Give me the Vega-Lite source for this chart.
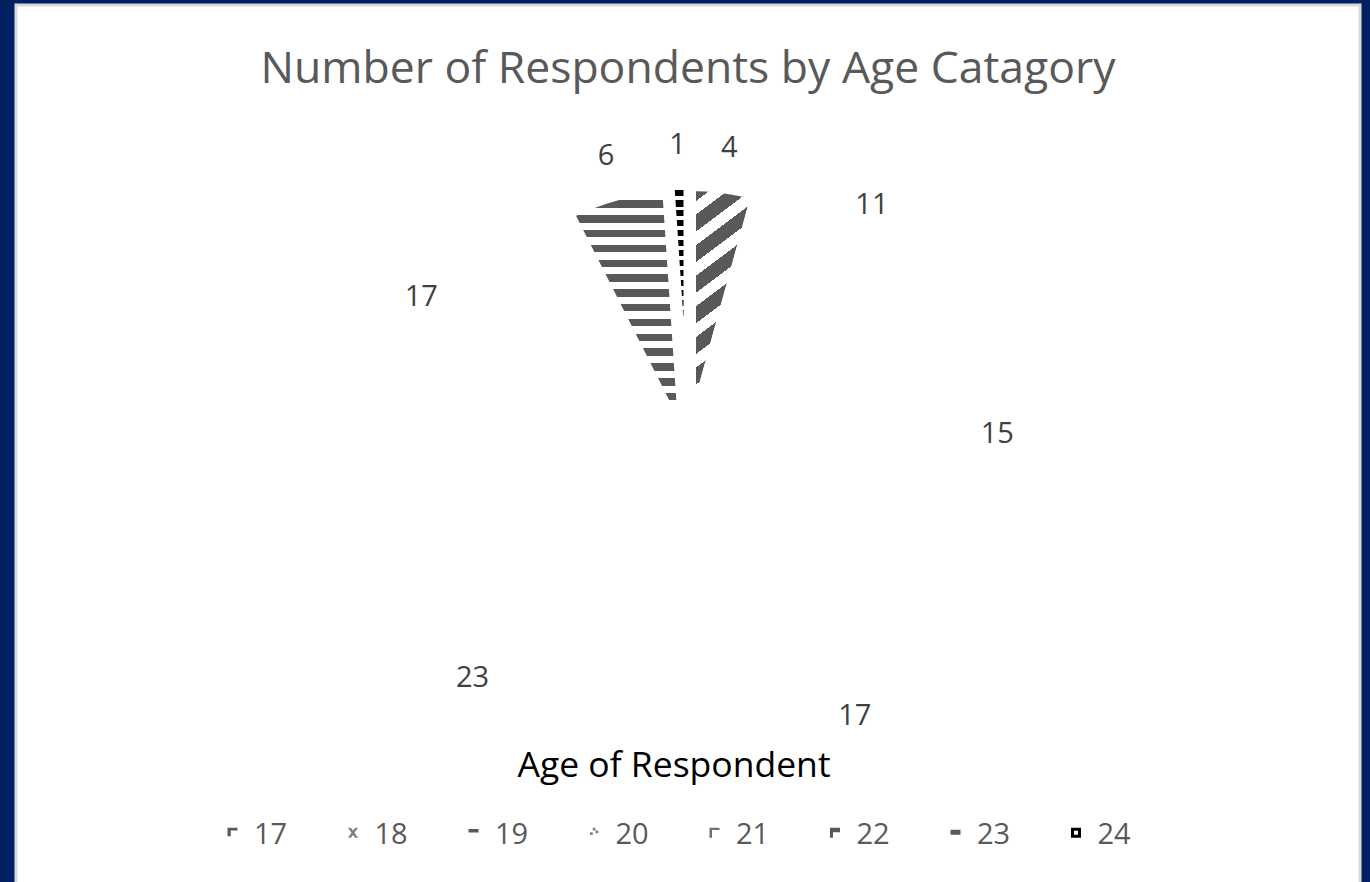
{
  "$schema": "https://vega.github.io/schema/vega-lite/v6.json",
  "width": 1344,
  "height": 900,
  "autosize": {"type": "none"},
  "padding": {"left": 16, "top": 5, "right": 10, "bottom": -23},
  "background": "#00205f",
  "view": {"fill": "#ffffff", "stroke": "#d9d9d9", "strokeWidth": 3},
  "title": {
    "text": "Number of Respondents by Age Catagory",
    "font": "Open Sans",
    "fontSize": 44.5,
    "fontWeight": "normal",
    "color": "#595959",
    "anchor": "middle",
    "baseline": "alphabetic",
    "offset": -122,
    "limit": 0
  },
  "data": {
    "values": [
      {"age": 17, "n": 4},
      {"age": 18, "n": 11},
      {"age": 19, "n": 15},
      {"age": 20, "n": 17},
      {"age": 21, "n": 23},
      {"age": 22, "n": 17},
      {"age": 23, "n": 6},
      {"age": 24, "n": 1}
    ]
  },
  "layer": [
    {
      "mark": {"type": "arc", "radius": 272, "stroke": "white", "strokeJoin": "round"},
      "encoding": {
        "theta": {"field": "n", "type": "quantitative", "stack": true},
        "order": {"field": "age", "type": "quantitative", "sort": "ascending"},
        "fill": {
          "condition": [
            {
              "test": "datum.age === 17",
              "value": {
                "gradient": "linear", "x1": 0, "y1": 0, "x2": 0.19814, "y2": 1,
                "stops": [
                  {"offset": 0, "color": "#ffffff"},
                  {"offset": 0.0245, "color": "#ffffff"}, {"offset": 0.0245, "color": "#595959"},
                  {"offset": 0.0846, "color": "#595959"}, {"offset": 0.0846, "color": "#ffffff"},
                  {"offset": 0.1328, "color": "#ffffff"}, {"offset": 0.1328, "color": "#595959"},
                  {"offset": 0.1929, "color": "#595959"}, {"offset": 0.1929, "color": "#ffffff"},
                  {"offset": 0.2410, "color": "#ffffff"}, {"offset": 0.2410, "color": "#595959"},
                  {"offset": 0.3011, "color": "#595959"}, {"offset": 0.3011, "color": "#ffffff"},
                  {"offset": 0.3493, "color": "#ffffff"}, {"offset": 0.3493, "color": "#595959"},
                  {"offset": 0.4094, "color": "#595959"}, {"offset": 0.4094, "color": "#ffffff"},
                  {"offset": 0.4575, "color": "#ffffff"}, {"offset": 0.4575, "color": "#595959"},
                  {"offset": 0.5176, "color": "#595959"}, {"offset": 0.5176, "color": "#ffffff"},
                  {"offset": 0.5658, "color": "#ffffff"}, {"offset": 0.5658, "color": "#595959"},
                  {"offset": 0.6259, "color": "#595959"}, {"offset": 0.6259, "color": "#ffffff"},
                  {"offset": 0.6740, "color": "#ffffff"}, {"offset": 0.6740, "color": "#595959"},
                  {"offset": 0.7341, "color": "#595959"}, {"offset": 0.7341, "color": "#ffffff"},
                  {"offset": 0.7823, "color": "#ffffff"}, {"offset": 0.7823, "color": "#595959"},
                  {"offset": 0.8424, "color": "#595959"}, {"offset": 0.8424, "color": "#ffffff"},
                  {"offset": 1, "color": "#ffffff"}
                ]
              }
            },
            {
              "test": "datum.age === 23",
              "value": {
                "gradient": "linear", "x1": 0, "y1": 0, "x2": 0, "y2": 1,
                "stops": [
                  {"offset": 0, "color": "#ffffff"},
                  {"offset": 0.0611, "color": "#ffffff"}, {"offset": 0.0611, "color": "#595959"},
                  {"offset": 0.0888, "color": "#595959"}, {"offset": 0.0888, "color": "#ffffff"},
                  {"offset": 0.1158, "color": "#ffffff"}, {"offset": 0.1158, "color": "#595959"},
                  {"offset": 0.1434, "color": "#595959"}, {"offset": 0.1434, "color": "#ffffff"},
                  {"offset": 0.1704, "color": "#ffffff"}, {"offset": 0.1704, "color": "#595959"},
                  {"offset": 0.1980, "color": "#595959"}, {"offset": 0.1980, "color": "#ffffff"},
                  {"offset": 0.2250, "color": "#ffffff"}, {"offset": 0.2250, "color": "#595959"},
                  {"offset": 0.2527, "color": "#595959"}, {"offset": 0.2527, "color": "#ffffff"},
                  {"offset": 0.2797, "color": "#ffffff"}, {"offset": 0.2797, "color": "#595959"},
                  {"offset": 0.3073, "color": "#595959"}, {"offset": 0.3073, "color": "#ffffff"},
                  {"offset": 0.3343, "color": "#ffffff"}, {"offset": 0.3343, "color": "#595959"},
                  {"offset": 0.3620, "color": "#595959"}, {"offset": 0.3620, "color": "#ffffff"},
                  {"offset": 0.3890, "color": "#ffffff"}, {"offset": 0.3890, "color": "#595959"},
                  {"offset": 0.4166, "color": "#595959"}, {"offset": 0.4166, "color": "#ffffff"},
                  {"offset": 0.4436, "color": "#ffffff"}, {"offset": 0.4436, "color": "#595959"},
                  {"offset": 0.4712, "color": "#595959"}, {"offset": 0.4712, "color": "#ffffff"},
                  {"offset": 0.4982, "color": "#ffffff"}, {"offset": 0.4982, "color": "#595959"},
                  {"offset": 0.5259, "color": "#595959"}, {"offset": 0.5259, "color": "#ffffff"},
                  {"offset": 0.5529, "color": "#ffffff"}, {"offset": 0.5529, "color": "#595959"},
                  {"offset": 0.5805, "color": "#595959"}, {"offset": 0.5805, "color": "#ffffff"},
                  {"offset": 0.6075, "color": "#ffffff"}, {"offset": 0.6075, "color": "#595959"},
                  {"offset": 0.6352, "color": "#595959"}, {"offset": 0.6352, "color": "#ffffff"},
                  {"offset": 0.6622, "color": "#ffffff"}, {"offset": 0.6622, "color": "#595959"},
                  {"offset": 0.6898, "color": "#595959"}, {"offset": 0.6898, "color": "#ffffff"},
                  {"offset": 0.7168, "color": "#ffffff"}, {"offset": 0.7168, "color": "#595959"},
                  {"offset": 0.7444, "color": "#595959"}, {"offset": 0.7444, "color": "#ffffff"},
                  {"offset": 0.7714, "color": "#ffffff"}, {"offset": 0.7714, "color": "#595959"},
                  {"offset": 0.7991, "color": "#595959"}, {"offset": 0.7991, "color": "#ffffff"},
                  {"offset": 1, "color": "#ffffff"}
                ]
              }
            },
            {
              "test": "datum.age === 24",
              "value": {
                "gradient": "linear", "x1": 0, "y1": 0, "x2": 0, "y2": 1,
                "stops": [
                  {"offset": 0, "color": "#ffffff"},
                  {"offset": 0.0257, "color": "#ffffff"}, {"offset": 0.0257, "color": "#000000"},
                  {"offset": 0.0496, "color": "#000000"}, {"offset": 0.0496, "color": "#ffffff"},
                  {"offset": 0.0625, "color": "#ffffff"}, {"offset": 0.0625, "color": "#000000"},
                  {"offset": 0.0864, "color": "#000000"}, {"offset": 0.0864, "color": "#ffffff"},
                  {"offset": 0.0992, "color": "#ffffff"}, {"offset": 0.0992, "color": "#000000"},
                  {"offset": 0.1231, "color": "#000000"}, {"offset": 0.1231, "color": "#ffffff"},
                  {"offset": 0.1360, "color": "#ffffff"}, {"offset": 0.1360, "color": "#000000"},
                  {"offset": 0.1599, "color": "#000000"}, {"offset": 0.1599, "color": "#ffffff"},
                  {"offset": 0.1727, "color": "#ffffff"}, {"offset": 0.1727, "color": "#000000"},
                  {"offset": 0.1966, "color": "#000000"}, {"offset": 0.1966, "color": "#ffffff"},
                  {"offset": 0.2095, "color": "#ffffff"}, {"offset": 0.2095, "color": "#000000"},
                  {"offset": 0.2334, "color": "#000000"}, {"offset": 0.2334, "color": "#ffffff"},
                  {"offset": 0.2463, "color": "#ffffff"}, {"offset": 0.2463, "color": "#000000"},
                  {"offset": 0.2702, "color": "#000000"}, {"offset": 0.2702, "color": "#ffffff"},
                  {"offset": 0.2830, "color": "#ffffff"}, {"offset": 0.2830, "color": "#000000"},
                  {"offset": 0.3069, "color": "#000000"}, {"offset": 0.3069, "color": "#ffffff"},
                  {"offset": 0.3198, "color": "#ffffff"}, {"offset": 0.3198, "color": "#000000"},
                  {"offset": 0.3437, "color": "#000000"}, {"offset": 0.3437, "color": "#ffffff"},
                  {"offset": 0.3565, "color": "#ffffff"}, {"offset": 0.3565, "color": "#000000"},
                  {"offset": 0.3804, "color": "#000000"}, {"offset": 0.3804, "color": "#ffffff"},
                  {"offset": 0.3933, "color": "#ffffff"}, {"offset": 0.3933, "color": "#000000"},
                  {"offset": 0.4172, "color": "#000000"}, {"offset": 0.4172, "color": "#ffffff"},
                  {"offset": 0.4301, "color": "#ffffff"}, {"offset": 0.4301, "color": "#000000"},
                  {"offset": 0.4540, "color": "#000000"}, {"offset": 0.4540, "color": "#ffffff"},
                  {"offset": 0.4668, "color": "#ffffff"}, {"offset": 0.4668, "color": "#000000"},
                  {"offset": 0.4907, "color": "#000000"}, {"offset": 0.4907, "color": "#ffffff"},
                  {"offset": 0.5036, "color": "#ffffff"}, {"offset": 0.5036, "color": "#000000"},
                  {"offset": 0.5275, "color": "#000000"}, {"offset": 0.5275, "color": "#ffffff"},
                  {"offset": 0.5403, "color": "#ffffff"}, {"offset": 0.5403, "color": "#000000"},
                  {"offset": 0.5642, "color": "#000000"}, {"offset": 0.5642, "color": "#ffffff"},
                  {"offset": 0.5771, "color": "#ffffff"}, {"offset": 0.5771, "color": "#000000"},
                  {"offset": 0.6010, "color": "#000000"}, {"offset": 0.6010, "color": "#ffffff"},
                  {"offset": 1, "color": "#ffffff"}
                ]
              }
            }
          ],
          "value": "#ffffff"
        },
        "strokeWidth": {
          "condition": {"test": "datum.age === 24", "value": 9},
          "value": 16
        }
      }
    },
    {
      "mark": {"type": "text", "radius": 310, "font": "Open Sans", "fontSize": 29, "color": "#404040"},
      "encoding": {
        "theta": {"field": "n", "type": "quantitative", "stack": true},
        "order": {"field": "age", "type": "quantitative", "sort": "ascending"},
        "text": {"field": "n", "type": "quantitative"}
      }
    },
    {
      "mark": {"type": "point", "filled": true, "opacity": 0},
      "encoding": {
        "color": {
          "field": "age",
          "type": "ordinal",
          "scale": {
            "domain": [17, 18, 19, 20, 21, 22, 23, 24],
            "range": ["#595959", "#7f7f7f", "#595959", "#7f7f7f", "#6f6f6f", "#595959", "#595959", "#000000"]
          },
          "legend": {
            "title": "Age of Respondent",
            "orient": "none",
            "legendX": 202,
            "legendY": 744,
            "direction": "horizontal"
          }
        },
        "shape": {
          "field": "age",
          "type": "ordinal",
          "scale": {
            "domain": [17, 18, 19, 20, 21, 22, 23, 24],
            "range": [
              "M-1,-1.5H1V-0.95H-0.35V0.2H-1Z",
              "M-1,-1.5H-0.45L0,-0.95L0.45,-1.5H1L0.3,-0.5L1,0.5H0.45L0,-0.05L-0.45,0.5H-1L-0.3,-0.5Z",
              "M-1,-1.25H1V-0.55H-1Z",
              "M-0.25,-1.5H0.3V-0.95H-0.25Z M0.3,-0.95H0.85V-0.4H0.3Z M-0.8,-0.6H-0.25V-0.05H-0.8Z",
              "M-1,-1.5H1V-1.05H-0.5V0.5H-1Z",
              "M-1,-1.5H1V-0.6H-0.4V0.5H-1Z",
              "M-1,-1.1H1V-0.1H-1Z",
              "M-1,-1.5H1V0.5H-1Z M-0.4,-0.9V-0.1H0.4V-0.9Z"
            ]
          },
          "legend": {
            "title": "Age of Respondent",
            "orient": "none",
            "legendX": 202,
            "legendY": 744,
            "direction": "horizontal"
          }
        }
      }
    }
  ],
  "config": {
    "legend": {
      "padding": 0,
      "titleFont": "Open Sans",
      "titleFontSize": 35.5,
      "titleFontWeight": "normal",
      "titleColor": "#000000",
      "titleAnchor": "middle",
      "titlePadding": 36,
      "titleLimit": 1000,
      "labelFont": "Open Sans",
      "labelFontSize": 29,
      "labelColor": "#595959",
      "labelOffset": 7,
      "symbolSize": 100,
      "symbolStrokeWidth": 0,
      "symbolOpacity": 1,
      "columnPadding": 50.5
    }
  }
}
